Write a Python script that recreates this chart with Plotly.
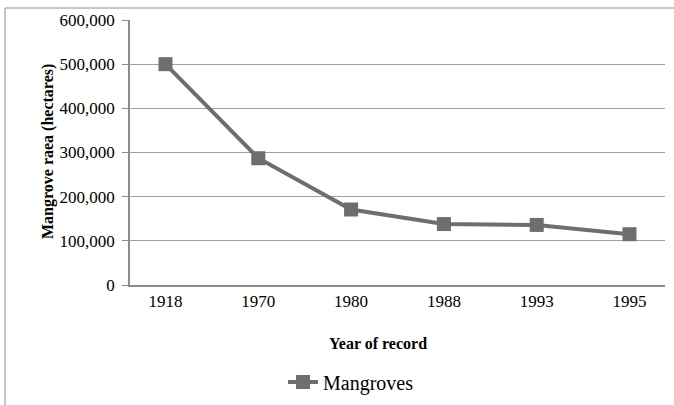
import plotly.graph_objects as go

years = ["1918", "1970", "1980", "1988", "1993", "1995"]
mangroves = [500000, 287000, 171000, 138000, 136000, 115000]
y_ticks = [0, 100000, 200000, 300000, 400000, 500000, 600000]
y_tick_labels = ["0", "100,000", "200,000", "300,000", "400,000", "500,000", "600,000"]

SERIF = "Liberation Serif"
GRAY = "#6e6e6e"

fig = go.Figure()
fig.add_trace(go.Scatter(
    x=years, y=mangroves, mode="lines+markers", name="Mangroves",
    line=dict(color=GRAY, width=4),
    marker=dict(symbol="square", size=14, color=GRAY),
))

L, R, T, B = 130, 9, 20, 120
W, H = 674, 405
pw, ph = W - L - R, H - T - B

def px(x):
    return (x - L) / pw

def py(y):
    return (H - B - y) / ph

fig.update_layout(
    width=W, height=H,
    margin=dict(l=L, r=R, t=T, b=B, autoexpand=False),
    paper_bgcolor="white", plot_bgcolor="white",
    font=dict(family=SERIF, size=17, color="#000000"),
    showlegend=True,
    legend=dict(orientation="h", x=px(283), xanchor="left", y=py(382), yanchor="middle",
                font=dict(family=SERIF, size=20, color="#000000"), bgcolor="rgba(0,0,0,0)"),
    xaxis=dict(
        type="category", showgrid=False, showline=True, linecolor="#8c8c8c", linewidth=1.5,
        ticks="", tickfont=dict(family=SERIF, size=17), fixedrange=True, automargin=False,
    ),
    yaxis=dict(
        range=[0, 600000], tickvals=y_ticks, ticktext=y_tick_labels,
        showgrid=True, gridcolor="#a0a0a0", gridwidth=1.3,
        showline=True, linecolor="#8c8c8c", linewidth=1.5,
        ticks="outside", ticklen=6, tickcolor="#8c8c8c",
        tickfont=dict(family=SERIF, size=17), zeroline=False,
        ticklabelstandoff=4, automargin=False,
    ),
    annotations=[
        dict(text="<b>Year of record</b>", xref="paper", yref="paper",
             x=px(378), y=py(343), xanchor="center", yanchor="middle",
             showarrow=False, font=dict(family=SERIF, size=16)),
        dict(text="<b>Mangrove raea (hectares)</b>", xref="paper", yref="paper",
             x=px(48), y=py(152), xanchor="center", yanchor="middle", textangle=-90,
             showarrow=False, font=dict(family=SERIF, size=16)),
    ],
    shapes=[
        dict(type="line", xref="paper", yref="paper", x0=px(5), x1=px(674), y0=py(8), y1=py(8),
             line=dict(color="#b4b4b4", width=1.5)),
        dict(type="line", xref="paper", yref="paper", x0=px(5), x1=px(5), y0=py(8), y1=py(405),
             line=dict(color="#b4b4b4", width=1.5)),
    ],
)

fig.write_html(
    "out.html",
    config={"displayModeBar": False},
    post_script="document.body.style.margin='0';document.body.style.overflow='hidden';",
)
